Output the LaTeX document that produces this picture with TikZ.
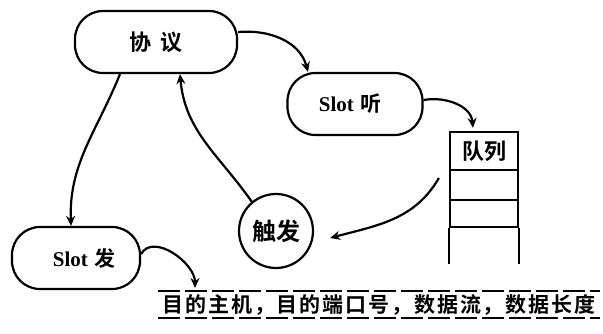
\documentclass[tikz,border=0pt]{standalone}
\usepackage{fontspec}
\newfontfamily\cjk{Noto Sans CJK SC Bold}
\newfontfamily\cjkwide{Noto Sans CJK SC Bold}[LetterSpace=9]
\newfontfamily\latin{Liberation Serif}
\usetikzlibrary{arrows.meta}
\begin{document}
\begin{tikzpicture}[x=1pt,y=-1pt,
  line width=2.2pt,
  box/.style={draw,rounded corners=28pt,minimum width=#1,minimum height=62pt,inner sep=0pt},
  arr/.style={-{Stealth[length=10pt,width=9pt]}},
  lbl/.style={font=\cjk\fontsize{22}{24}\selectfont},
  slot/.style={font=\fontsize{21}{24}\selectfont}]
\useasboundingbox (0,0) rectangle (603,334);
\node[box=162pt,lbl] (p) at (156,42) {协\hspace{0.45em}议};
\node[box=135pt,slot] (l) at (355,104) {\hspace{-10pt}{\latin\bfseries Slot} {\cjk 听}};
\node[box=128pt,slot] (s) at (76,258) {\hspace{16pt}{\latin\bfseries Slot} {\cjk 发}};
\node[draw,circle,minimum size=74pt,inner sep=0pt,font=\cjk\fontsize{24}{24}\selectfont] (t) at (276,231) {触发};
% queue
\node[draw,minimum width=68pt,minimum height=38pt,inner sep=0pt,lbl] (q) at (484,151) {队列};
\node[draw,minimum width=68pt,minimum height=30pt,inner sep=0pt] (q1) at (484,185) {};
\node[draw,minimum width=68pt,minimum height=27pt,inner sep=0pt] (q2) at (484,213.5) {};
\draw (q2.south west) -- ++(0,36) coordinate (qbl);
\draw (q2.south east) -- ++(0,36) coordinate (qbr);
% band
\coordinate (b1) at (158,291);
\coordinate (b2) at (600,291);
\coordinate (b3) at (158,318);
\coordinate (b4) at (600,318);
\coordinate (sendend) at (195,288);
\draw[dash pattern=on 22pt off 5pt] (b1) -- (b2);
\draw[dash pattern=on 22pt off 5pt] (b3) -- (b4);
\node[font=\cjkwide\fontsize{21}{22}\selectfont,inner sep=0pt] (band) at (379,304.5) {目的主机，目的端口号，数据流，数据长度};
% connectors
\draw[arr] ([yshift=10pt]p.east) to[out=5,in=105] (l.north west -| 308,0);
\draw[arr] ([yshift=4pt]l.east) to[out=10,in=95] ([xshift=-11pt,yshift=3pt]q.north);
\draw[arr] ([xshift=-10pt,yshift=-27pt]q.west) to[out=240,in=15] ([xshift=16pt,yshift=-7pt]t.east);
\draw[arr] (t.north west) ++(3,-2) to[out=125,in=-85] ([xshift=24pt]p.south);
\draw[arr] ([xshift=-36pt]p.south) to[out=-112,in=92] ([xshift=-5pt]s.north);
\draw[arr] ([yshift=4pt]s.east) to[out=60,in=90] (sendend);
\end{tikzpicture}
\end{document}
